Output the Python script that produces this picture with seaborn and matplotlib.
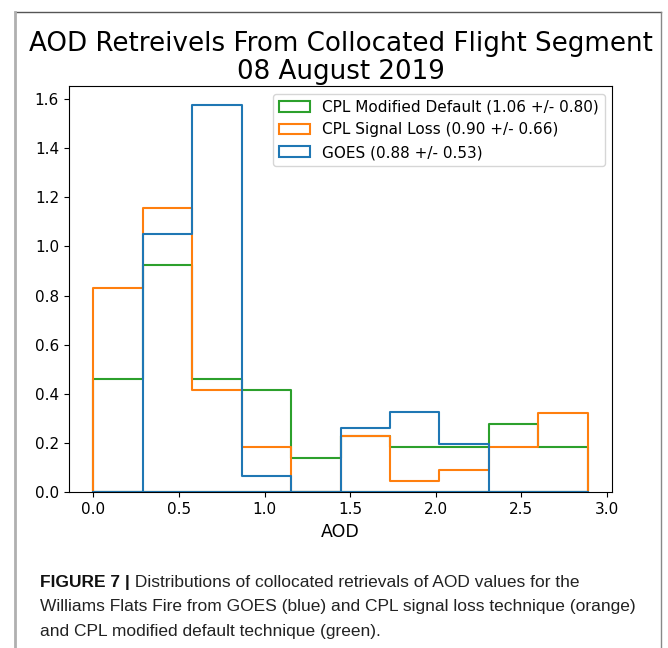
import numpy as np
import pandas as pd
import matplotlib
matplotlib.use("Agg")
import matplotlib.pyplot as plt
from matplotlib.patches import Patch
from matplotlib.lines import Line2D
import seaborn as sns

# ---- data (density per bin) ----
aod_min = 0.0
aod_max = 2.887
n_bins = 10

goes_density = [0.0, 1.049, 1.574, 0.065, 0.0, 0.261, 0.327, 0.196, 0.0, 0.0]
signal_loss_density = [0.831, 1.155, 0.416, 0.185, 0.0, 0.231, 0.046, 0.092, 0.185, 0.323]
mod_default_density = [0.462, 0.924, 0.462, 0.416, 0.139, 0.231, 0.185, 0.185, 0.277, 0.185]

labels = {
    "md": "CPL Modified Default (1.06 +/- 0.80)",
    "sl": "CPL Signal Loss (0.90 +/- 0.66)",
    "goes": "GOES (0.88 +/- 0.53)",
}
colors = {"goes": "#1f77b4", "sl": "#ff7f0e", "md": "#2ca02c"}

title = "AOD Retreivels From Collocated Flight Segment\n08 August 2019"
xlabel = "AOD"
x_ticks = [0.0, 0.5, 1.0, 1.5, 2.0, 2.5, 3.0]
y_ticks = [0.0, 0.2, 0.4, 0.6, 0.8, 1.0, 1.2, 1.4, 1.6]

caption_bold = "FIGURE 7 |"
caption_lines = [
    " Distributions of collocated retrievals of AOD values for the",
    "Williams Flats Fire from GOES (blue) and CPL signal loss technique (orange)",
    "and CPL modified default technique (green).",
]

# ---- build table ----
edges = np.linspace(aod_min, aod_max, n_bins + 1)
centers = (edges[:-1] + edges[1:]) / 2
series = {"md": mod_default_density, "sl": signal_loss_density, "goes": goes_density}
df = pd.concat(
    [pd.DataFrame({"AOD": centers, "density": vals, "source": key}) for key, vals in series.items()],
    ignore_index=True,
)

fig = plt.figure(figsize=(6.68, 6.48), dpi=100)
ax = fig.add_axes([0.1028, 0.2403, 0.8138, 0.6270])

for key in ["md", "sl", "goes"]:
    sub = df[df["source"] == key]
    sns.histplot(
        data=sub, x="AOD", weights="density", bins=edges.tolist(), stat="count",
        element="step", fill=True, color=colors[key], facecolor="none",
        edgecolor=colors[key], linewidth=1.5, ax=ax, legend=False,
    )

ax.set_xlim(-0.1444, 3.031)
ax.set_ylim(0, 1.653)
ax.set_xticks(x_ticks)
ax.set_yticks(y_ticks)
ax.set_xticklabels([f"{t:.1f}" for t in x_ticks])
ax.set_yticklabels([f"{t:.1f}" for t in y_ticks])
ax.tick_params(labelsize=11)
ax.set_xlabel(xlabel, fontsize=12.5)
ax.set_ylabel("")
ax.set_title(title, fontsize=18.8, linespacing=1.12, pad=5)

handles = [Patch(facecolor="none", edgecolor=colors[k], linewidth=1.5) for k in ["md", "sl", "goes"]]
ax.legend(handles, [labels[k] for k in ["md", "sl", "goes"]], loc="upper right", fontsize=11)

# ---- page frame lines ----
fig.add_artist(Line2D([0.0225, 0.9895], [0.982, 0.982], color="#555555", linewidth=1.0))
fig.add_artist(Line2D([0.0225, 0.0225], [0.0, 0.982], color="#b0b0b0", linewidth=2.0))
fig.add_artist(Line2D([0.9895, 0.9895], [0.0, 0.982], color="#888888", linewidth=1.0))

# ---- caption ----
cap_family = ["Liberation Sans", "DejaVu Sans"]
cap_size = 12.5
x0 = 40 / 668
base_y = [1 - 587 / 648, 1 - 611.5 / 648, 1 - 636 / 648]
t_bold = fig.text(x0, base_y[0], caption_bold, fontsize=cap_size, fontweight="bold",
                  family=cap_family, va="baseline", ha="left", color="#111111")
fig.canvas.draw()
bb = t_bold.get_window_extent(renderer=fig.canvas.get_renderer())
x1 = bb.x1 / fig.bbox.width
fig.text(x1, base_y[0], caption_lines[0], fontsize=cap_size, family=cap_family,
         va="baseline", ha="left", color="#222222")
for line, y in zip(caption_lines[1:], base_y[1:]):
    fig.text(x0, y, line, fontsize=cap_size, family=cap_family, va="baseline", ha="left", color="#222222")

fig.savefig("out.png", dpi=100)
